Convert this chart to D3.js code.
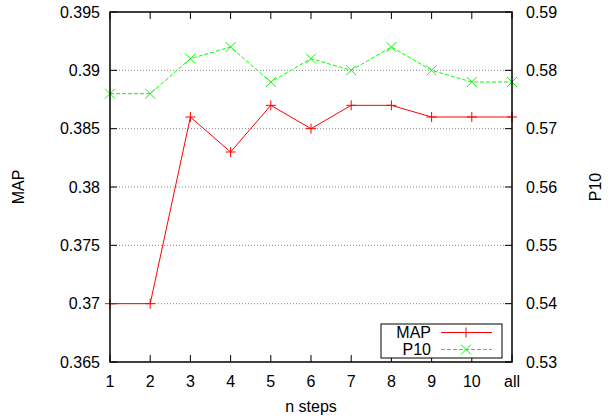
<!DOCTYPE html>
<html>
<head>
<meta charset="utf-8">
<script src="https://cdn.jsdelivr.net/npm/d3@7.9.0/dist/d3.min.js"></script>
<style>
  body { margin: 0; background: #fff; }
  svg { display: block; font-family: "Liberation Sans", Arial, sans-serif; }
</style>
</head>
<body>
<svg id="chart" width="614" height="418"></svg>
<script>
// data
const steps = ['1', '2', '3', '4', '5', '6', '7', '8', '9', '10', 'all'];
const mapValues = [0.370, 0.370, 0.386, 0.383, 0.387, 0.385, 0.387, 0.387, 0.386, 0.386, 0.386];
const p10Values = [0.576, 0.576, 0.582, 0.584, 0.578, 0.582, 0.580, 0.584, 0.580, 0.578, 0.578];
const mapTicks = [0.365, 0.37, 0.375, 0.38, 0.385, 0.39, 0.395];
const p10Ticks = [0.53, 0.54, 0.55, 0.56, 0.57, 0.58, 0.59];

const svg = d3.select('#chart');
const plotLeft = 110, plotRight = 512, plotTop = 12, plotBottom = 362;
const tickLen = 7;

const x = d3.scalePoint().domain(steps).range([plotLeft, plotRight]);
const yMap = d3.scaleLinear().domain([0.365, 0.395]).range([plotBottom, plotTop]);
const yP10 = d3.scaleLinear().domain([0.53, 0.59]).range([plotBottom, plotTop]);

// grid lines (dotted)
svg.append('g')
  .selectAll('line')
  .data(mapTicks.slice(1, -1))
  .join('line')
  .attr('x1', plotLeft).attr('x2', plotRight)
  .attr('y1', d => yMap(d)).attr('y2', d => yMap(d))
  .attr('stroke', '#888')
  .attr('stroke-width', 1)
  .attr('stroke-dasharray', '1,2');

// ticks pointing inward
const ticks = svg.append('g').attr('stroke', '#000').attr('stroke-width', 1);
steps.forEach(s => {
  ticks.append('line').attr('x1', x(s)).attr('x2', x(s)).attr('y1', plotBottom).attr('y2', plotBottom - tickLen);
  ticks.append('line').attr('x1', x(s)).attr('x2', x(s)).attr('y1', plotTop).attr('y2', plotTop + tickLen);
});
mapTicks.forEach(t => {
  ticks.append('line').attr('x1', plotLeft).attr('x2', plotLeft + tickLen).attr('y1', yMap(t)).attr('y2', yMap(t));
});
p10Ticks.forEach(t => {
  ticks.append('line').attr('x1', plotRight).attr('x2', plotRight - tickLen).attr('y1', yP10(t)).attr('y2', yP10(t));
});

// tick labels
const fontSize = 16;
svg.append('g').selectAll('text').data(mapTicks).join('text')
  .attr('x', plotLeft - 10).attr('y', d => yMap(d)).attr('dy', '0.36em')
  .attr('text-anchor', 'end').attr('font-size', fontSize).attr('fill', '#000')
  .text(d => String(+d.toFixed(3)));
svg.append('g').selectAll('text').data(p10Ticks).join('text')
  .attr('x', plotRight + 14).attr('y', d => yP10(d)).attr('dy', '0.36em')
  .attr('text-anchor', 'start').attr('font-size', fontSize).attr('fill', '#000')
  .text(d => String(+d.toFixed(2)));
svg.append('g').selectAll('text').data(steps).join('text')
  .attr('x', d => x(d)).attr('y', 381).attr('dy', '0.36em')
  .attr('text-anchor', 'middle').attr('font-size', fontSize).attr('fill', '#000')
  .text(d => d);

// axis titles
svg.append('text').attr('x', 311).attr('y', 406).attr('dy', '0.36em')
  .attr('text-anchor', 'middle').attr('font-size', fontSize).text('n steps');
svg.append('text').attr('transform', 'translate(18,187) rotate(-90)').attr('dy', '0.36em')
  .attr('text-anchor', 'middle').attr('font-size', fontSize).text('MAP');
svg.append('text').attr('transform', 'translate(595,187) rotate(-90)').attr('dy', '0.36em')
  .attr('text-anchor', 'middle').attr('font-size', fontSize).text('P10');

// series
const mapLine = d3.line().x((d, i) => x(steps[i])).y(d => yMap(d));
const p10Line = d3.line().x((d, i) => x(steps[i])).y(d => yP10(d));
const ms = 5;

svg.append('path').attr('d', mapLine(mapValues))
  .attr('fill', 'none').attr('stroke', '#ff0000').attr('stroke-width', 1);
svg.append('path').attr('d', p10Line(p10Values))
  .attr('fill', 'none').attr('stroke', '#00ff00').attr('stroke-width', 1)
  .attr('stroke-dasharray', '4,2');

function plus(g, cx, cy, color) {
  g.append('path').attr('d', `M${cx - ms},${cy}H${cx + ms}M${cx},${cy - ms}V${cy + ms}`)
    .attr('stroke', color).attr('stroke-width', 1).attr('fill', 'none');
}
function cross(g, cx, cy, color) {
  g.append('path').attr('d', `M${cx - ms},${cy - ms}L${cx + ms},${cy + ms}M${cx - ms},${cy + ms}L${cx + ms},${cy - ms}`)
    .attr('stroke', color).attr('stroke-width', 1).attr('fill', 'none');
}
const markers = svg.append('g');
mapValues.forEach((v, i) => plus(markers, x(steps[i]), yMap(v), '#ff0000'));
p10Values.forEach((v, i) => cross(markers, x(steps[i]), yP10(v), '#00ff00'));

// frame
svg.append('rect').attr('x', plotLeft).attr('y', plotTop)
  .attr('width', plotRight - plotLeft).attr('height', plotBottom - plotTop)
  .attr('fill', 'none').attr('stroke', '#000').attr('stroke-width', 1.5);

// legend
const lg = svg.append('g');
lg.append('rect').attr('x', 381).attr('y', 324).attr('width', 121).attr('height', 34)
  .attr('fill', '#fff').attr('stroke', '#000').attr('stroke-width', 1);
const rows = [
  { label: 'MAP', y: 332.5, color: '#ff0000', dash: null, mark: plus },
  { label: 'P10', y: 349.5, color: '#00ff00', dash: '4,2', mark: cross }
];
rows.forEach(r => {
  lg.append('text').attr('x', 431).attr('y', r.y).attr('dy', '0.36em')
    .attr('text-anchor', 'end').attr('font-size', fontSize).text(r.label);
  lg.append('line').attr('x1', 441).attr('x2', 492).attr('y1', r.y).attr('y2', r.y)
    .attr('stroke', r.color).attr('stroke-width', 1)
    .attr('stroke-dasharray', r.dash);
  r.mark(lg, 466, r.y, r.color);
});
</script>
</body>
</html>
